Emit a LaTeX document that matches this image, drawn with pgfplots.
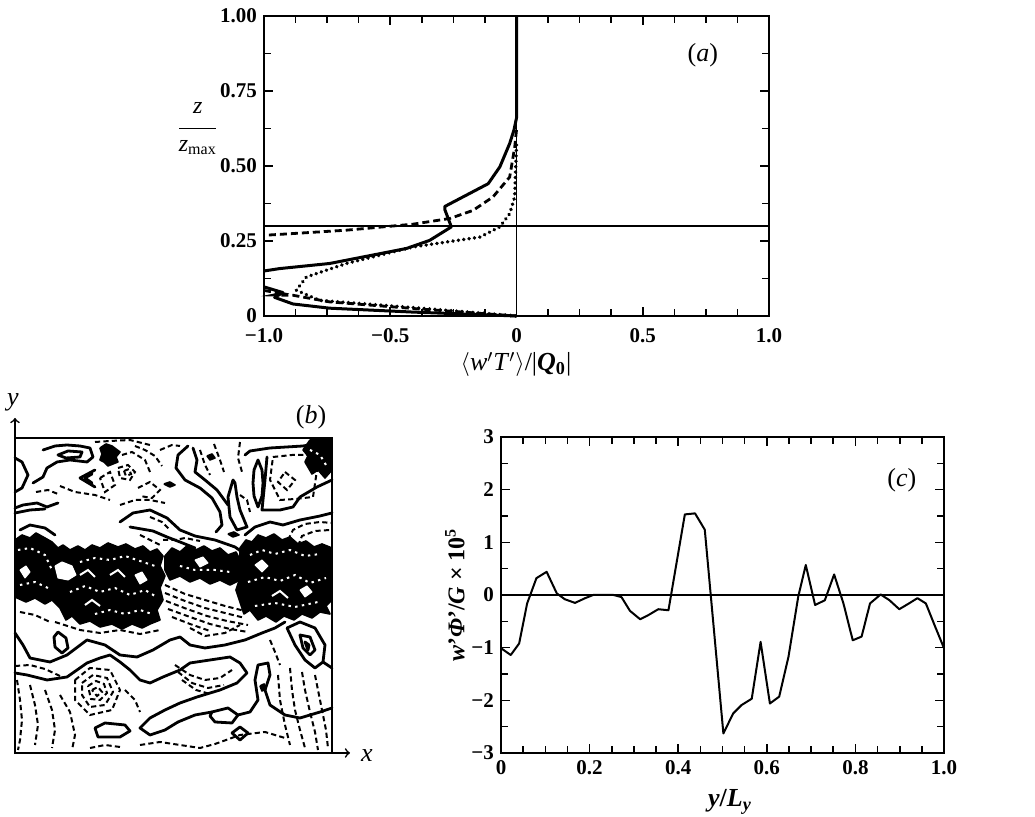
\documentclass[border=0pt]{standalone}
\usepackage{fontspec}
\setmainfont{Liberation Serif}
\usepackage{pgfplots}
\pgfplotsset{compat=1.18}
\tikzset{
 bs/.style={black, line width=1.4pt, line join=round, line cap=round},
 bd/.style={black, line width=1.0pt, dash pattern=on 2.6pt off 1.6pt},
 bl/.style={fill=black, draw=black, line width=0.8pt, line join=round},
 wl/.style={fill=white, draw=white, line width=0.5pt, line join=round},
 wd/.style={white, line width=1.0pt, dash pattern=on 1.2pt off 2.2pt},
 ws/.style={white, line width=1.0pt},
}
\begin{document}
\begin{tikzpicture}
\path[use as bounding box] (0,0) rectangle (517.5pt,408.5pt);

% ---------------- panel (a)
\begin{axis}[
 at={(132pt,250.5pt)}, anchor=south west,
 scale only axis, width=252.5pt, height=150pt,
 xmin=-1, xmax=1, ymin=0, ymax=1,
 xtick={-1,-0.5,0,0.5,1}, xticklabels={−1.0,−0.5,0,0.5,1.0},
 ytick={0,0.25,0.5,0.75,1}, yticklabels={0,0.25,0.50,0.75,1.00},
 minor x tick num=3, minor y tick num=1,
 tick align=inside, major tick length=4.5pt, minor tick length=3.5pt,
 every tick/.style={black, line width=0.8pt},
 axis line style={line width=1.4pt},
 tick label style={font=\fontsize{10.5}{12}\selectfont\bfseries},
 xticklabel style={yshift=-2.5pt},
 clip=false, no markers,
]
\addplot[black, line width=0.6pt] coordinates {(0,0) (0,1)};
\addplot[black, line width=0.6pt] coordinates {(-1,0.30) (1,0.30)};
\addplot[black, line width=1.5pt, line join=round] coordinates {
 (0,1.0) (0,0.66) (-0.01,0.62) (-0.027,0.575) (-0.066,0.497) (-0.112,0.441)
 (-0.284,0.365) (-0.284,0.355) (-0.258,0.297) (-0.344,0.252) (-0.436,0.225)
 (-0.74,0.175) (-0.938,0.158) (-1.0,0.15)};
\addplot[black, line width=1.5pt, line join=round] coordinates {
 (-1.0,0.097) (-0.925,0.078) (-0.958,0.062) (-0.885,0.04) (-0.74,0.026) (-0.41,0.013) (0,0.0)};
\addplot[black, line width=1.4pt, dash pattern=on 3.5pt off 2pt] coordinates {
 (0,0.62) (-0.007,0.563) (-0.027,0.463) (-0.093,0.397) (-0.172,0.352) (-0.264,0.325)
 (-0.41,0.306) (-0.674,0.286) (-0.938,0.272) (-1,0.269)};
\addplot[black, line width=1.4pt, dash pattern=on 3.5pt off 2pt] coordinates {
 (-1,0.085) (-0.93,0.075) (-0.96,0.07) (-0.885,0.069) (-0.74,0.047) (-0.41,0.025) (0,0.0)};
\addplot[black, line width=1.9pt, line cap=round, dash pattern=on 0.01pt off 2.7pt] coordinates {
 (0,0.57) (-0.005,0.45) (-0.007,0.397) (-0.027,0.341) (-0.066,0.297) (-0.145,0.263)
 (-0.41,0.23) (-0.674,0.175) (-0.832,0.13) (-0.872,0.086) (-0.78,0.052) (-0.41,0.028) (0,0.0)};
\node[font=\fontsize{13}{14}\selectfont] at (rel axis cs:0.869,0.87) {(\textit{a})};
\node[font=\fontsize{13}{15}\selectfont, inner sep=1pt] at (rel axis cs:0.499,-0.162)
 {$\langle$\textit{w}$'$\textit{T}$'\rangle$/|\textbf{\textit{Q}}\textsubscript{\textbf{0}}|};
\node[font=\fontsize{12}{13}\selectfont, align=center, inner sep=0pt] at (rel axis cs:-0.131,0.625)
 {\textit{z}\\[-5pt]\rule{18.5pt}{0.6pt}\\[-2pt]\textit{z}\textsubscript{max}};
\end{axis}

% ---------------- panel (b)
\begin{axis}[
 at={(7.5pt,32pt)}, anchor=south west,
 scale only axis, width=167.5pt, height=167.5pt,
 xmin=15, xmax=350, ymin=418, ymax=753, y dir=reverse,
 hide axis, clip=false, no markers,
]
\draw[black, line width=1pt] (axis cs:15,438) rectangle (axis cs:332,753);
\draw[->, black, line width=0.8pt] (axis cs:15,753) -- (axis cs:350,753);
\draw[->, black, line width=0.8pt] (axis cs:15,753) -- (axis cs:15,418);
\node[font=\fontsize{13}{14}\selectfont] at (axis cs:13,402) {\textit{y}};
\node[font=\fontsize{13}{14}\selectfont] at (axis cs:367,756) {\textit{x}};
\node[font=\fontsize{13}{14}\selectfont] at (axis cs:311,417) {(\textit{b})};
% dense band blobs
\addplot[bl] coordinates {(15,540) (22,535) (30,538) (36,533) (45,538) (52,542) (58,548) (63,545) (70,550) (78,546) (85,550) (92,545) (100,548) (108,543) (118,547) (126,544) (135,549) (143,546) (150,552) (157,549) (163,556) (160,566) (165,576) (160,588) (163,600) (157,610) (160,620) (150,624) (142,628) (132,624) (122,629) (112,624) (100,627) (90,621) (80,624) (72,616) (66,620) (60,608) (52,600) (45,604) (35,598) (26,602) (15,597) (15,540)};
\addplot[bl] coordinates {(165,556) (172,548) (180,552) (188,545) (196,550) (204,546) (212,551) (220,548) (228,555) (236,552) (240,560) (236,570) (240,580) (230,585) (220,580) (210,584) (200,578) (190,582) (180,576) (170,580) (165,570) (165,556)};
\addplot[bl] coordinates {(240,548) (246,540) (252,542) (258,535) (266,538) (274,534) (282,540) (290,537) (298,544) (306,541) (314,547) (322,544) (332,548) (332,600) (326,606) (330,614) (320,612) (312,618) (302,614) (294,620) (284,616) (276,622) (266,616) (258,620) (250,610) (244,614) (240,602) (236,590) (240,578) (236,566) (240,556) (240,548)};
\addplot[bl] coordinates {(310,440) (330,438) (332,470) (325,478) (318,470) (312,474) (305,462) (308,456) (303,450) (310,440)};
\addplot[bl] coordinates {(100,448) (106,444) (112,446) (120,452) (116,457) (118,462) (108,466) (104,462) (100,460) (102,454) (100,448)};
% white gaps and texture in blobs
\addplot[wl] coordinates {(55,566) (62,562) (72,566) (76,575) (68,580) (58,578) (55,566)};
\addplot[wl] coordinates {(20,570) (26,566) (30,572) (25,578) (20,570)};
\addplot[wl] coordinates {(135,575) (142,572) (147,580) (140,584) (135,575)};
\addplot[wl] coordinates {(255,565) (262,560) (268,566) (262,572) (255,565)};
\addplot[wl] coordinates {(300,590) (307,586) (312,592) (305,597) (300,590)};
\addplot[wl] coordinates {(195,560) (203,557) (208,563) (200,567) (195,560)};
\addplot[wd] coordinates {(18,550) (30,548) (45,555) (52,570)};
\addplot[wd] coordinates {(20,585) (35,582) (48,588)};
\addplot[ws] coordinates {(80,575) (88,570) (95,577)};
\addplot[wd] coordinates {(70,592) (85,586) (100,592) (115,588) (130,595) (145,590) (155,596)};
\addplot[ws] coordinates {(85,605) (92,600) (100,606)};
\addplot[ws] coordinates {(110,575) (118,570) (125,577)};
\addplot[wd] coordinates {(80,562) (95,558) (110,560) (125,556) (140,561) (155,566)};
\addplot[wd] coordinates {(95,614) (110,610) (125,614) (140,610) (152,614)};
\addplot[wd] coordinates {(250,555) (262,550) (275,554) (290,550) (305,556) (320,554)};
\addplot[wd] coordinates {(248,582) (265,577) (280,581) (295,575) (310,583) (326,578)};
\addplot[ws] coordinates {(272,596) (280,591) (288,598)};
\addplot[wd] coordinates {(255,606) (275,603) (295,607) (318,602)};
\addplot[wd] coordinates {(180,566) (195,570) (215,570) (230,572)};
\addplot[wd] coordinates {(310,450) (320,455) (326,465)};
% mixed dashed region in band
\addplot[bd] coordinates {(165,585) (185,594) (205,600) (225,606) (245,611)};
\addplot[bd] coordinates {(165,593) (185,601) (205,608) (225,613) (245,618)};
\addplot[bd] coordinates {(166,601) (187,609) (207,616) (227,621) (248,625)};
\addplot[bd] coordinates {(168,609) (190,617) (210,624) (230,629) (248,632)};
\addplot[bd] coordinates {(172,617) (190,624) (210,631)};
\addplot[bd] coordinates {(242,587) (248,595) (252,604)};
\addplot[bd] coordinates {(163,540) (175,540) (185,538) (200,541)};
\addplot[bd] coordinates {(140,535) (150,540) (160,545)};
% top-left solids
\addplot[bs] coordinates {(43,450) (55,446) (67,445) (80,446) (90,448) (93,457) (87,462) (70,460) (57,462) (47,468) (43,477) (33,483)};
\addplot[bs] coordinates {(58,455) (68,451) (82,452) (80,457) (66,458) (58,455)};
\addplot[bs] coordinates {(15,458) (22,462) (28,475) (22,488) (15,492)};
\addplot[bs] coordinates {(15,508) (23,505) (37,503) (47,507) (58,503)};
\addplot[bs] coordinates {(15,513) (30,510) (45,509)};
\addplot[bs] coordinates {(95,470) (80,478) (95,487)};
\addplot[bs] coordinates {(92,474) (85,478) (92,483)};
\addplot[bs] coordinates {(120,522) (133,513) (150,510) (167,518) (180,530) (195,536) (215,540) (235,547) (242,552)};
\addplot[bs] coordinates {(130,527) (153,531) (167,537) (180,542) (195,548)};
\addplot[bs] coordinates {(20,530) (30,525) (45,528) (55,535)};
% snake, flame, ellipse
\addplot[bs] coordinates {(188,446) (178,455) (176,468) (185,480) (200,488) (212,498) (220,512) (222,525) (216,532)};
\addplot[bs] coordinates {(193,448) (197,460) (195,472) (205,480) (217,490) (228,505)};
\addplot[bs] coordinates {(233,480) (228,497) (230,517) (237,530) (247,527) (240,510) (237,497) (235,483) (233,480)};
\addplot[bs] coordinates {(258,460) (262,470) (263,483) (262,496) (258,507) (254,496) (253,483) (254,470) (258,460)};
% right box
\addplot[bs] coordinates {(245,455) (250,451) (270,448) (303,446) (327,442)};
\addplot[bs] coordinates {(267,457) (265,480) (263,500) (262,510) (280,510) (293,507) (300,497) (317,487) (332,480)};
\addplot[bs] coordinates {(245,535) (255,527) (270,522) (283,525) (300,520) (320,516) (332,513)};
\addplot[bd] coordinates {(273,457) (292,455) (310,455) (317,470) (313,497) (295,499) (280,500) (270,480) (273,457)};
\addplot[bd] coordinates {(285,472) (295,480) (287,490) (278,482) (285,472)};
\addplot[bd] coordinates {(288,540) (293,530) (305,524) (320,522) (332,523)};
\addplot[bd] coordinates {(298,546) (302,536) (315,531) (330,530)};
% small black dots
\addplot[bl] coordinates {(164,484) (170,482) (175,485) (170,487) (164,484)};
\addplot[bl] coordinates {(228,534) (234,532) (239,535) (233,537) (228,534)};
\addplot[bl] coordinates {(207,456) (212,454) (215,458) (210,460) (207,456)};
% top dashed
\addplot[bd] coordinates {(95,442) (110,441) (130,440) (150,445)};
\addplot[bd] coordinates {(122,455) (132,452) (145,460) (150,472)};
\addplot[bd] coordinates {(118,468) (128,465) (135,472) (130,480) (120,478) (118,468)};
\addplot[bd] coordinates {(100,478) (110,472) (115,485) (105,492) (100,478)};
\addplot[bd] coordinates {(124,471) (129,469) (131,474) (126,476) (124,471)};
\addplot[bd] coordinates {(60,486) (75,492) (95,495) (110,500)};
\addplot[bd] coordinates {(120,505) (135,500) (150,500) (165,503)};
\addplot[bd] coordinates {(138,488) (150,482) (160,490) (152,498) (140,496)};
\addplot[bd] coordinates {(135,446) (145,450) (155,456) (162,466)};
\addplot[bd] coordinates {(200,450) (205,465) (210,475)};
\addplot[bd] coordinates {(214,444) (220,460) (224,472)};
\addplot[bd] coordinates {(240,442) (238,458) (242,472)};
\addplot[bd] coordinates {(160,450) (172,445) (180,446)};
\addplot[bd] coordinates {(36,492) (48,490) (58,494)};
\addplot[bd] coordinates {(240,495) (247,500) (250,512)};
\addplot[bd] coordinates {(150,517) (162,522) (170,530)};
% lower region solids
\addplot[bs] coordinates {(15,633) (23,645) (30,658) (50,662) (67,655) (87,640) (105,645) (120,655) (137,657) (153,650) (170,640) (180,637) (190,645) (205,648) (225,645) (245,640) (262,633) (275,628) (285,622)};
\addplot[bs] coordinates {(58,632) (66,638) (68,648) (62,653) (55,647) (54,637) (58,632)};
\addplot[bs] coordinates {(15,673) (27,675) (47,680) (67,677) (77,670) (87,663) (100,658) (110,655) (120,662) (130,670) (140,680) (150,683) (163,677) (180,670) (190,663) (210,660) (230,657) (240,663) (247,673) (237,683) (220,690) (197,697) (180,703) (165,710) (150,718) (140,728) (150,735) (165,730) (178,722)};
\addplot[bs] coordinates {(95,728) (105,723) (125,725) (130,731) (120,737) (98,737) (95,728)};
\addplot[bs] coordinates {(212,712) (228,708) (238,715) (232,723) (215,722) (210,716) (212,712)};
\addplot[bs] coordinates {(178,722) (195,715) (212,712)};
\addplot[bs] coordinates {(232,733) (240,727) (248,733) (240,740) (232,733)};
\addplot[bs] coordinates {(238,715) (250,712) (258,700) (255,680) (258,665) (268,663) (270,675) (265,690) (270,705) (285,715) (300,718) (320,712) (332,708)};
\addplot[bl] coordinates {(260,686) (264,684) (266,689) (262,691) (260,686)};
\addplot[bs] coordinates {(287,628) (300,622) (315,628) (325,645) (323,662) (315,668) (305,660) (295,645) (287,628)};
\addplot[bs] coordinates {(300,635) (310,637) (315,650) (310,655) (303,648) (300,635)};
\addplot[bs] coordinates {(305,642) (309,645) (308,650) (305,642)};
\addplot[bs] coordinates {(323,662) (332,668)};
% lower dashed
\addplot[bd] coordinates {(17,680) (20,700) (22,720) (20,740) (18,750)};
\addplot[bd] coordinates {(30,685) (35,705) (38,725) (35,745)};
\addplot[bd] coordinates {(45,690) (52,710) (55,730) (52,748)};
\addplot[bd] coordinates {(60,695) (70,712) (75,735) (72,750)};
\addplot[bd] coordinates {(15,666) (30,665) (45,669) (60,676)};
\addplot[bd] coordinates {(75,680) (90,668) (110,670) (120,690) (112,710) (90,715) (75,700) (75,680)};
\addplot[bd] coordinates {(82,683) (93,675) (107,678) (113,692) (105,705) (90,707) (82,695) (82,683)};
\addplot[bd] coordinates {(88,686) (96,681) (104,684) (107,693) (100,700) (91,699) (88,686)};
\addplot[bd] coordinates {(92,690) (98,687) (102,692) (97,696) (92,690)};
\addplot[bd] coordinates {(175,665) (190,675) (205,680) (220,678) (232,670)};
\addplot[bd] coordinates {(178,672) (192,683) (208,688) (224,685)};
\addplot[bd] coordinates {(182,680) (196,690) (210,694)};
\addplot[bd] coordinates {(290,668) (292,690) (295,710) (300,730) (305,748)};
\addplot[bd] coordinates {(302,672) (305,690) (310,712) (315,732) (318,750)};
\addplot[bd] coordinates {(315,675) (318,690) (322,710) (326,730) (328,748)};
\addplot[bd] coordinates {(278,675) (280,700) (285,725) (290,745)};
\addplot[bd] coordinates {(140,745) (160,742) (180,745) (200,748) (215,744) (240,735) (265,732) (285,738)};
\addplot[bd] coordinates {(90,748) (105,745) (120,747)};
\addplot[bd] coordinates {(55,622) (80,630) (100,633) (120,630) (140,634) (160,630)};
\addplot[bd] coordinates {(20,612) (35,615) (50,622)};
\addplot[bd] coordinates {(125,690) (135,700) (140,712)};
\addplot[bd] coordinates {(190,628) (205,636) (225,633) (240,625)};
\addplot[bd] coordinates {(270,640) (275,652) (280,665)};
\end{axis}

% ---------------- panel (c)
\begin{axis}[
 at={(250.5pt,32pt)}, anchor=south west,
 scale only axis, width=221.5pt, height=158pt,
 xmin=0, xmax=1, ymin=-3, ymax=3,
 xtick={0,0.2,0.4,0.6,0.8,1}, xticklabels={0,0.2,0.4,0.6,0.8,1.0},
 ytick={-3,-2,-1,0,1,2,3}, yticklabels={−3,−2,−1,0,1,2,3},
 minor x tick num=3, minor y tick num=1,
 tick align=inside, major tick length=4.5pt, minor tick length=3.5pt,
 every tick/.style={black, line width=0.8pt},
 axis line style={line width=1.4pt},
 tick label style={font=\fontsize{10.5}{12}\selectfont\bfseries},
 clip=false, no markers,
]
\addplot[black, line width=0.8pt] coordinates {(0,0) (1,0)};
\addplot[black, line width=1.0pt, line join=round] coordinates {
 (0,-1.01) (0.022,-1.14) (0.041,-0.92) (0.059,-0.16) (0.080,0.32) (0.103,0.44)
 (0.126,0.03) (0.144,-0.08) (0.167,-0.15) (0.19,-0.06) (0.208,0) (0.254,0)
 (0.272,-0.04) (0.291,-0.30) (0.314,-0.46) (0.333,-0.38) (0.355,-0.27) (0.378,-0.29)
 (0.415,1.53) (0.438,1.55) (0.46,1.24) (0.502,-2.63) (0.524,-2.25) (0.543,-2.09)
 (0.566,-1.97) (0.586,-0.89) (0.607,-2.06) (0.628,-1.93) (0.649,-1.17) (0.671,-0.03)
 (0.688,0.57) (0.709,-0.19) (0.731,-0.10) (0.752,0.39) (0.773,-0.16) (0.794,-0.86)
 (0.814,-0.79) (0.833,-0.16) (0.857,0.01) (0.877,-0.10) (0.899,-0.27) (0.919,-0.17)
 (0.94,-0.06) (0.959,-0.16) (0.98,-0.6) (1.0,-1.01)};
\node[font=\fontsize{13}{14}\selectfont] at (rel axis cs:0.905,0.864) {(\textit{c})};
\node[font=\fontsize{13}{15}\selectfont\bfseries] at (rel axis cs:0.517,-0.155)
 {\textit{y}/\textit{L}\textsubscript{\textit{y}}};
\node[font=\fontsize{12}{14}\selectfont\bfseries, rotate=90] at (rel axis cs:-0.104,0.5)
 {\textit{w}'\textit{Φ}'/\textit{G} × 10\textsuperscript{5}};
\end{axis}
\end{tikzpicture}
\end{document}
